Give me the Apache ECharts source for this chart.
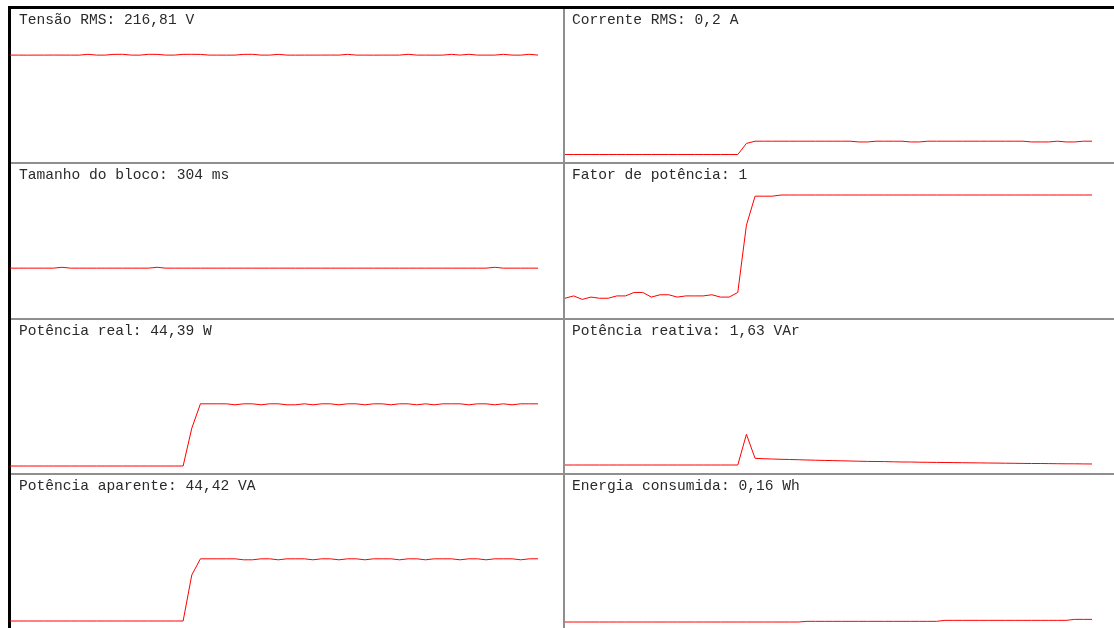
<!DOCTYPE html>
<html>
<head>
<meta charset="utf-8">
<script src="https://cdn.jsdelivr.net/npm/echarts@6/dist/echarts.min.js"></script>
<style>
  html, body { margin: 0; background: #fff; }
  #chart { width: 1114px; height: 628px; }
</style>
</head>
<body>
<div id="chart"></div>
<script>
// sample index (62 blocks of ~304 ms)
const samples = Array.from({ length: 62 }, (_, i) => i);

const tensao = [216.8, 216.8, 216.7, 216.8, 216.8, 216.9, 216.8, 216.8, 216.7, 218.5,
  216.8, 216.8, 218.4, 218.5, 216.8, 216.7, 218.5, 218.4, 216.8, 216.8,
  218.4, 218.5, 218.3, 216.8, 216.8, 216.7, 216.8, 218.4, 218.5, 216.8,
  216.8, 218.4, 216.8, 216.7, 216.8, 216.8, 216.8, 216.9, 216.8, 218.4,
  216.8, 216.8, 216.7, 216.8, 216.8, 216.8, 218.5, 216.8, 216.8, 216.7,
  216.8, 218.4, 216.8, 218.5, 216.8, 216.8, 216.8, 218.4, 216.8, 216.7,
  218.5, 216.81];

const corrente = [0.02, 0.02, 0.02, 0.02, 0.02, 0.02, 0.02, 0.02, 0.02, 0.02,
  0.02, 0.02, 0.02, 0.02, 0.02, 0.02, 0.02, 0.02, 0.02, 0.02,
  0.02, 0.17, 0.2, 0.2, 0.2, 0.2, 0.2, 0.2, 0.2, 0.2,
  0.2, 0.2, 0.2, 0.2, 0.19, 0.19, 0.2, 0.2, 0.2, 0.2,
  0.19, 0.19, 0.2, 0.2, 0.2, 0.2, 0.2, 0.2, 0.2, 0.2,
  0.2, 0.2, 0.2, 0.2, 0.19, 0.19, 0.19, 0.2, 0.19, 0.19,
  0.2, 0.2];

const bloco = [304, 304, 304, 304, 304, 304, 310, 304, 304, 304,
  304, 304, 304, 304, 304, 304, 304, 310, 304, 304,
  304, 304, 304, 304, 304, 304, 304, 304, 304, 304,
  304, 304, 304, 304, 304, 304, 304, 304, 304, 304,
  304, 304, 304, 304, 304, 304, 304, 304, 304, 304,
  304, 304, 304, 304, 304, 304, 310, 304, 304, 304,
  304, 304];

const fatorPotencia = [0.11, 0.13, 0.10, 0.12, 0.11, 0.11, 0.13, 0.13, 0.16, 0.16,
  0.12, 0.14, 0.14, 0.12, 0.13, 0.13, 0.13, 0.14, 0.12, 0.12,
  0.16, 0.74, 0.99, 0.99, 0.99, 1, 1, 1, 1, 1,
  1, 1, 1, 1, 1, 1, 1, 1, 1, 1,
  1, 1, 1, 1, 1, 1, 1, 1, 1, 1,
  1, 1, 1, 1, 1, 1, 1, 1, 1, 1,
  1, 1];

const potReal = [0.7, 0.7, 0.7, 0.7, 0.7, 0.7, 0.7, 0.7, 0.7, 0.7,
  0.7, 0.7, 0.7, 0.7, 0.7, 0.7, 0.7, 0.7, 0.7, 0.7,
  0.7, 27.2, 44.4, 44.4, 44.4, 44.4, 43.7, 44.4, 44.4, 43.7,
  44.4, 44.4, 43.7, 43.7, 44.4, 43.7, 44.4, 44.4, 43.7, 44.4,
  44.4, 43.7, 44.4, 44.4, 43.7, 44.4, 44.4, 43.7, 44.4, 43.7,
  44.4, 44.4, 44.4, 43.7, 44.4, 44.4, 43.7, 44.4, 43.7, 44.4,
  44.4, 44.39];

const potReativa = [1.08, 1.08, 1.08, 1.08, 1.08, 1.08, 1.08, 1.08, 1.08, 1.08,
  1.08, 1.08, 1.08, 1.08, 1.08, 1.08, 1.08, 1.08, 1.08, 1.08,
  1.08, 17.66, 4.70, 4.48, 4.32, 4.16, 4.05, 3.94, 3.78, 3.67,
  3.56, 3.46, 3.35, 3.24, 3.13, 3.02, 2.97, 2.92, 2.81, 2.70,
  2.70, 2.59, 2.54, 2.48, 2.43, 2.38, 2.32, 2.27, 2.21, 2.16,
  2.11, 2.05, 2.00, 1.94, 1.89, 1.89, 1.84, 1.78, 1.73, 1.73,
  1.67, 1.63];

const potAparente = [0.7, 0.7, 0.7, 0.7, 0.7, 0.7, 0.7, 0.7, 0.7, 0.7,
  0.7, 0.7, 0.7, 0.7, 0.7, 0.7, 0.7, 0.7, 0.7, 0.7,
  0.7, 33.0, 44.4, 44.4, 44.4, 44.4, 44.4, 43.7, 43.7, 44.4,
  44.4, 43.7, 44.4, 44.4, 44.4, 43.7, 44.4, 44.4, 43.7, 44.4,
  44.4, 43.7, 44.4, 44.4, 44.4, 43.7, 44.4, 44.4, 43.7, 44.4,
  44.4, 44.4, 43.7, 44.4, 44.4, 43.7, 44.4, 44.4, 44.4, 43.7,
  44.4, 44.42];

const energia = [0, 0, 0, 0, 0, 0, 0, 0, 0, 0,
  0, 0, 0, 0, 0, 0, 0, 0, 0, 0,
  0, 0, 0, 0, 0, 0, 0, 0, 0.04, 0.04,
  0.04, 0.04, 0.04, 0.04, 0.04, 0.04, 0.04, 0.04, 0.04, 0.04,
  0.04, 0.04, 0.04, 0.04, 0.10, 0.10, 0.10, 0.10, 0.10, 0.10,
  0.10, 0.10, 0.10, 0.10, 0.10, 0.10, 0.10, 0.10, 0.10, 0.16,
  0.16, 0.16];

const labels = [
  "Tensão RMS: 216,81 V", "Corrente RMS: 0,2 A",
  "Tamanho do bloco: 304 ms", "Fator de potência: 1",
  "Potência real: 44,39 W", "Potência reativa: 1,63 VAr",
  "Potência aparente: 44,42 VA", "Energia consumida: 0,16 Wh"
];
const panelData = [tensao, corrente, bloco, fatorPotencia, potReal, potReativa, potAparente, energia];
const panelMax = [318, 2, 1050, 1.276, 104, 80, 104, 9];

const rowTops = [8, 163, 319, 474];
const cols = [{ left: 10, width: 528, text: 19 }, { left: 565, width: 527, text: 572 }];
const font = '"Courier New", "Liberation Mono", monospace';

const chart = echarts.init(document.getElementById("chart"));

const grid = [], xAxis = [], yAxis = [], series = [], title = [];
panelData.forEach((data, i) => {
  const row = Math.floor(i / 2), col = cols[i % 2];
  grid.push({ left: col.left, top: rowTops[row], width: col.width, height: 148 });
  xAxis.push({ type: "category", gridIndex: i, data: samples, boundaryGap: false, show: false });
  yAxis.push({ type: "value", gridIndex: i, min: 0, max: panelMax[i], show: false });
  series.push({
    type: "line", xAxisIndex: i, yAxisIndex: i, data,
    symbol: "none", clip: false,
    lineStyle: { color: "#ff0000", width: 1 },
  });
  title.push({
    text: labels[i], left: col.text, top: rowTops[row] + 5, padding: 0,
    textStyle: { fontFamily: font, fontSize: 14.6, fontWeight: "normal", color: "#2a2a2a" },
  });
});

const frame = [
  { type: "rect", shape: { x: 8, y: 6, width: 1106, height: 3 }, style: { fill: "#000" } },
  { type: "rect", shape: { x: 8, y: 6, width: 3, height: 622 }, style: { fill: "#000" } },
  { type: "rect", shape: { x: 563, y: 9, width: 2, height: 619 }, style: { fill: "#8f8f8f" } },
];
[162, 318, 473].forEach((y) => {
  frame.push({ type: "rect", shape: { x: 11, y, width: 1103, height: 2 }, style: { fill: "#8f8f8f" } });
});

chart.setOption({
  animation: false,
  backgroundColor: "#fff",
  title, grid, xAxis, yAxis, series,
  graphic: frame,
});
</script>
</body>
</html>
